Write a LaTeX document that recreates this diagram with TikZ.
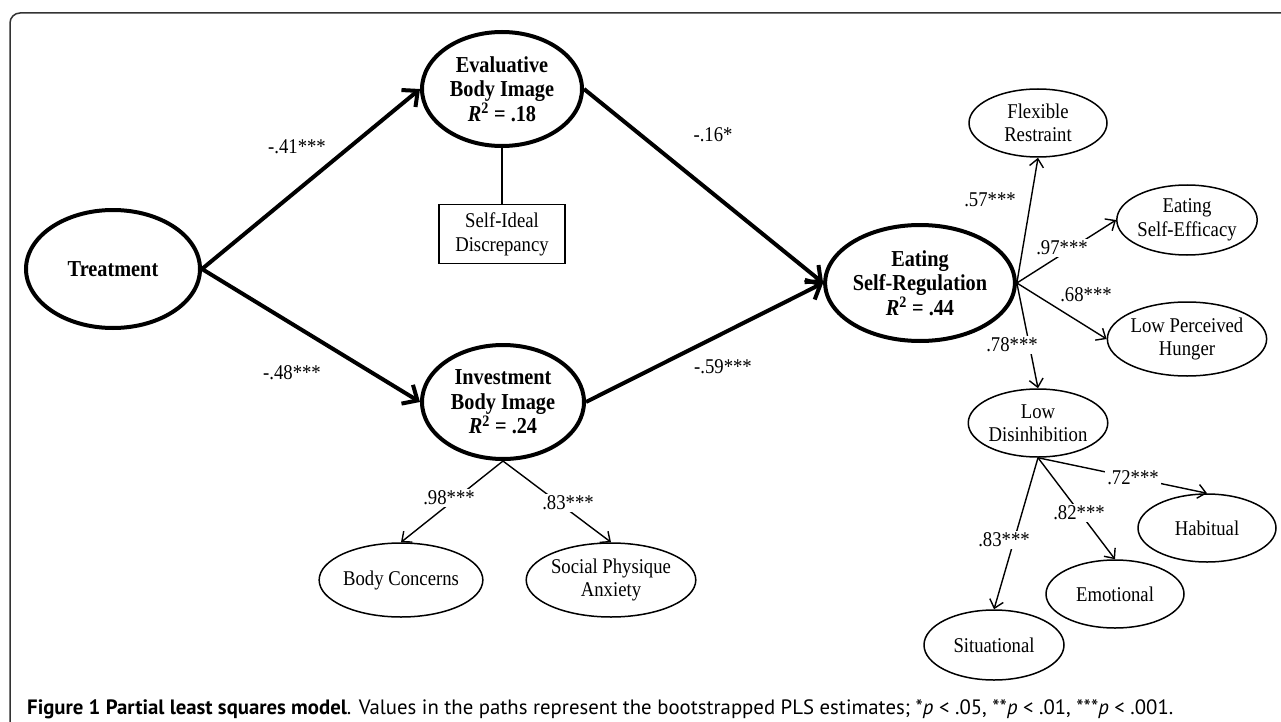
\documentclass[tikz,border=0pt]{standalone}
\usepackage{fontspec}
\setmainfont[FakeStretch=0.89]{Liberation Serif}
\newfontfamily\capfont{PT Sans}
\usetikzlibrary{shapes.geometric,arrows.meta}
\begin{document}
\begin{tikzpicture}[x=1pt,y=-1pt,
  big/.style={ellipse,draw,line width=4pt,inner sep=0pt,align=center,font=\fontsize{22.8}{24.5}\selectfont\bfseries},
  small/.style={ellipse,draw,line width=1.5pt,inner sep=0pt,align=center,font=\fontsize{21}{23.5}\selectfont},
  thickarrow/.style={line width=4pt,-{Straight Barb[length=12pt,width=22pt]}},
  thinarrow/.style={line width=1.4pt,-{Straight Barb[length=8pt,width=14pt]}},
  thinline/.style={line width=1.4pt},
  lbl/.style={font=\fontsize{21}{23}\selectfont,inner sep=1pt},
  blbl/.style={lbl,fill=white,inner sep=2pt},
]
\useasboundingbox (0,0) rectangle (1281,722);
\draw[line width=1.5pt,rounded corners=10pt,draw=black!80] (10,760) -- (10,13) -- (1320,13);

% main latent variables
\node[big,minimum width=174pt,minimum height=118pt] (tr) at (113,269) {Treatment};
\node[big,minimum width=160pt,minimum height=114pt] (ev) at (502,89) {Evaluative\\Body Image\\\textit{R}\textsuperscript{2} = .18};
\node[draw,line width=1.5pt,minimum width=126pt,minimum height=59pt,inner sep=0pt,align=center,font=\fontsize{21}{24}\selectfont] (sid) at (502,234) {Self-Ideal\\Discrepancy};
\node[big,minimum width=162pt,minimum height=114pt] (inv) at (503,402) {Investment\\Body Image\\\textit{R}\textsuperscript{2} = .24};
\node[big,minimum width=162pt,minimum height=116pt] (eat) at (920,283) {Eating\\Self-Regulation\\\textit{R}\textsuperscript{2} = .44};

% indicators
\node[small,minimum width=138pt,minimum height=68pt] (flex) at (1038,123) {Flexible\\Restraint};
\node[small,minimum width=138pt,minimum height=70pt] (eff) at (1187,220) {Eating\\Self-Efficacy};
\node[small,minimum width=138pt,minimum height=74pt] (hun) at (1187,339) {Low Perceived\\Hunger};
\node[small,minimum width=138pt,minimum height=68pt] (low) at (1038,423) {Low\\Disinhibition};
\node[small,minimum width=138pt,minimum height=68pt] (hab) at (1207,528) {Habitual};
\node[small,minimum width=138pt,minimum height=68pt] (emo) at (1115,594) {Emotional};
\node[small,minimum width=140pt,minimum height=70pt] (sit) at (994,645) {Situational};
\node[small,minimum width=128pt,minimum height=74pt] (bc) at (401,580) {Body Concerns};
\node[small,minimum width=140pt,minimum height=74pt] (spa) at (611,580) {Social Physique\\Anxiety};

% structural paths
\draw[thickarrow] (tr.east) -- (ev.west);
\draw[thickarrow] (tr.east) -- (inv.west);
\draw[thickarrow] (ev.east) -- (eat.west);
\draw[thickarrow] (inv.east) -- (eat.west);
\draw[thinline] (ev.south) -- (sid.north);

\node[lbl] (l41) at (297,147) {-.41***};
\node[lbl] (l48) at (292,373) {-.48***};
\node[lbl] (l16) at (713,135) {-.16*};
\node[lbl] (l59) at (723,367) {-.59***};

% measurement paths
\draw[thinarrow] (eat.east) -- (flex.south);
\draw[thinarrow] (eat.east) -- (eff.west);
\draw[thinarrow] (eat.east) -- (hun.west);
\draw[thinarrow] (eat.east) -- (low.north);
\draw[thinarrow] (low.south) -- (hab.north);
\draw[thinarrow] (low.south) -- (emo.north);
\draw[thinarrow] (low.south) -- (sit.north);
\draw[thinarrow] (inv.south) -- (bc.north);
\draw[thinarrow] (inv.south) -- (spa.north);

\node[lbl] (l57) at (990,200) {.57***};
\node[blbl] (l97) at (1062,248) {.97***};
\node[lbl] (l68) at (1086,295) {.68***};
\node[blbl] (l78) at (1012,345) {.78***};
\node[blbl] (l72) at (1133,478) {.72***};
\node[blbl] (l82) at (1079,513) {.82***};
\node[blbl] (l83b) at (1004,540) {.83***};
\node[blbl] (l98) at (449,498) {.98***};
\node[blbl] (l83a) at (568,503) {.83***};

% caption
\node[anchor=base west,inner sep=0pt] (cap) at (27,714) {\resizebox{1146pt}{!}{\capfont\fontsize{19}{22}\selectfont\textbf{Figure 1 Partial least squares model}. Values in the paths represent the bootstrapped PLS estimates; *\textit{p} < .05, **\textit{p} < .01, ***\textit{p} < .001.}};
\end{tikzpicture}
\end{document}
